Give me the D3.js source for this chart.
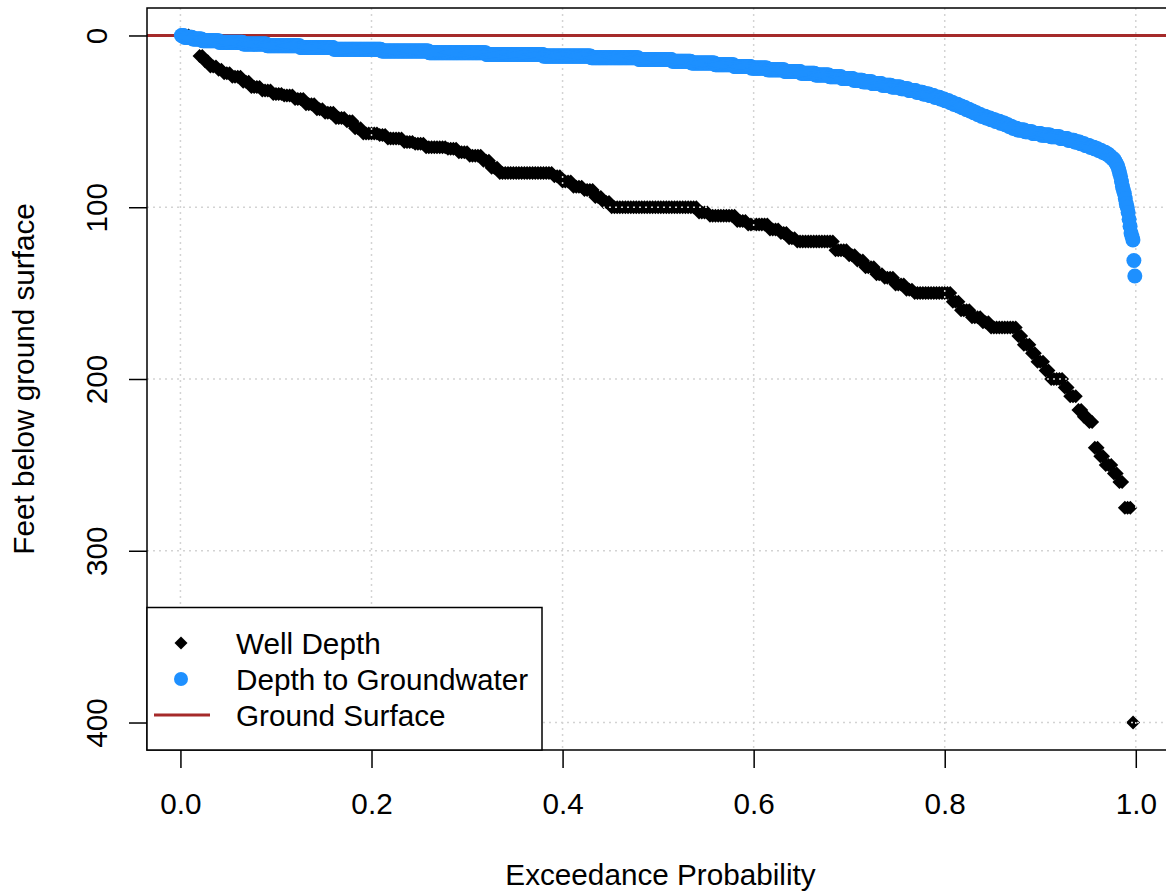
<!DOCTYPE html>
<html>
<head>
<meta charset="utf-8">
<script src="https://cdn.jsdelivr.net/npm/d3@7"></script>
<style>
  body { margin: 0; background: #fff; }
  text { font-family: "Liberation Sans", Arial, Helvetica, sans-serif; fill: #000; }
</style>
</head>
<body>
<div class="chart"></div>
<script>
// well depths (ft), sorted, with how many wells share each depth
var wellDepthFt = [0, 2, 12, 15, 18, 20, 22, 24, 27, 30,
  32, 34, 35, 37, 40, 43, 45, 48, 50, 54,
  57, 58, 60, 62, 63, 65, 66, 68, 70, 73,
  77, 80, 82, 85, 88, 90, 94, 97, 100, 103,
  105, 108, 110, 113, 115, 118, 120, 125, 128, 131,
  135, 139, 141, 145, 148, 150, 155, 160, 164, 167,
  170, 175, 180, 185, 190, 195, 200, 205, 210, 218,
  222, 225, 240, 245, 250, 255, 260, 275, 400]
var wellCount = [3, 3, 2, 2, 3, 2, 3, 4, 3, 4,
  4, 4, 4, 4, 4, 3, 4, 4, 3, 3,
  6, 3, 6, 4, 4, 8, 4, 4, 5, 3,
  3, 20, 3, 4, 4, 4, 3, 3, 32, 4,
  10, 4, 8, 4, 3, 3, 14, 5, 3, 3,
  4, 3, 4, 4, 3, 14, 3, 4, 4, 3,
  10, 2, 3, 2, 3, 2, 5, 2, 3, 2,
  2, 2, 2, 2, 3, 2, 2, 3, 1]

// depth to groundwater (ft), sorted, with counts
var gwDepthFt = [0, 1, 2, 3, 4, 5, 6, 7, 8, 9,
  10, 11, 12, 13, 14, 15, 16, 17, 18, 19,
  20, 21, 22, 23, 24, 25, 26, 27, 28, 29,
  30, 31, 32, 33, 34, 35, 36, 37, 38, 39,
  40, 41, 42, 43, 44, 45, 46, 47, 48, 49,
  50, 51, 52, 53, 54, 55, 56, 57, 58, 59,
  60, 61, 62, 63, 64, 65, 66, 67, 68, 69,
  70, 71, 72, 73, 74, 75, 76, 78, 80, 82,
  85, 88, 90, 92, 95, 98, 100, 103, 107, 111,
  115, 117, 119, 131, 140]
var gwCount = [3, 9, 10, 18, 25, 25, 35, 35, 50, 50,
  60, 60, 50, 50, 35, 20, 25, 20, 18, 17,
  18, 17, 15, 15, 13, 12, 10, 10, 10, 10,
  10, 8, 8, 7, 7, 5, 6, 5, 5, 4,
  5, 4, 4, 4, 4, 4, 4, 5, 5, 5,
  5, 5, 4, 4, 5, 8, 8, 9, 10, 10,
  8, 7, 6, 5, 5, 5, 4, 4, 4, 3,
  2, 2, 2, 1, 1, 1, 1, 1, 1, 1,
  1, 1, 1, 1, 1, 1, 1, 1, 1, 1,
  1, 1, 1, 1, 1]

var xTicks = [0, 0.2, 0.4, 0.6, 0.8, 1.0]
var yTicks = [0, 100, 200, 300, 400]
var legendLabels = ["Well Depth", "Depth to Groundwater", "Ground Surface"]

var width = 1166, height = 893
// plot box (right edge runs past the window, as in the original)
var boxL = 147, boxT = 8, boxR = 1174, boxB = 750
var fontSize = 29.7

var blue = "#1E90FF", brown = "#A52A2A", grey = "#D3D3D3"

// turn sorted values + counts into plotting positions i/(n+1)
function exceedance(depths, counts) {
  var vals = []
  depths.forEach(function(d, i) {
    for (var k = 0; k < counts[i]; k++) vals.push(d)
  })
  var n = vals.length
  return vals.map(function(v, i) { return {p: (i + 1) / (n + 1), depth: v} })
}

var wells = exceedance(wellDepthFt, wellCount)
var gw = exceedance(gwDepthFt, gwCount)

var x = d3.scaleLinear().domain([-0.035, 1.04]).range([boxL, boxR])
var y = d3.scaleLinear().domain([-16, 416]).range([boxT, boxB])

var svg = d3.select(".chart")
  .append("svg")
    .attr("width", width)
    .attr("height", height)
    .style("display", "block")

var diamond = function(h) { return "M0," + (-h) + "L" + h + ",0L0," + h + "L" + (-h) + ",0Z" }

// well depth diamonds (drawn first, grid goes over them)
svg.append("g").selectAll("path")
  .data(wells)
  .enter().append("path")
    .attr("d", diamond(7))
    .attr("transform", function(d) { return "translate(" + x(d.p) + "," + y(d.depth) + ")" })
    .attr("fill", "#000")

// grid
var grid = svg.append("g")
  .attr("stroke", grey)
  .attr("stroke-width", 1.5)
  .attr("stroke-dasharray", "2,4")
grid.selectAll(".gx").data(xTicks).enter().append("line")
  .attr("x1", function(d) { return x(d) }).attr("x2", function(d) { return x(d) })
  .attr("y1", boxT).attr("y2", boxB)
grid.selectAll(".gy").data(yTicks).enter().append("line")
  .attr("x1", boxL).attr("x2", boxR)
  .attr("y1", function(d) { return y(d) }).attr("y2", function(d) { return y(d) })

// ground surface
svg.append("line")
  .attr("x1", boxL).attr("x2", boxR)
  .attr("y1", y(0)).attr("y2", y(0))
  .attr("stroke", brown)
  .attr("stroke-width", 3)

// depth to groundwater
svg.append("g").selectAll("circle")
  .data(gw)
  .enter().append("circle")
    .attr("cx", function(d) { return x(d.p) })
    .attr("cy", function(d) { return y(d.depth) })
    .attr("r", 7.5)
    .attr("fill", blue)

// box
svg.append("rect")
  .attr("x", boxL).attr("y", boxT)
  .attr("width", boxR - boxL).attr("height", boxB - boxT)
  .attr("fill", "none")
  .attr("stroke", "#000")
  .attr("stroke-width", 1.5)

// axes
var xAxis = svg.append("g")
  .attr("transform", "translate(0," + boxB + ")")
  .call(d3.axisBottom(x).tickValues(xTicks).tickSize(18).tickFormat(d3.format(".1f")))
xAxis.select(".domain").remove()
xAxis.selectAll("line").attr("stroke-width", 1.5)
xAxis.selectAll("text")
  .attr("y", 64).attr("dy", null)
  .style("font-size", fontSize + "px")
  .style("font-family", "'Liberation Sans', Arial, sans-serif")

var yAxis = svg.append("g")
  .attr("transform", "translate(" + boxL + ",0)")
  .call(d3.axisLeft(y).tickValues(yTicks).tickSize(18))
yAxis.select(".domain").remove()
yAxis.selectAll("line").attr("stroke-width", 1.5)
yAxis.selectAll("text")
  .attr("transform", "rotate(-90)")
  .attr("x", 0).attr("y", -40).attr("dy", null)
  .attr("text-anchor", "middle")
  .style("font-size", fontSize + "px")
  .style("font-family", "'Liberation Sans', Arial, sans-serif")

// axis titles
svg.append("text")
  .attr("x", (boxL + boxR) / 2).attr("y", 885)
  .attr("text-anchor", "middle")
  .style("font-size", fontSize + "px")
  .text("Exceedance Probability")

svg.append("text")
  .attr("transform", "translate(34," + (boxT + boxB) / 2 + ") rotate(-90)")
  .attr("text-anchor", "middle")
  .style("font-size", fontSize + "px")
  .text("Feet below ground surface")

// legend
var lg = svg.append("g")
lg.append("rect")
  .attr("x", boxL).attr("y", 607.5)
  .attr("width", 542 - boxL).attr("height", boxB - 607.5)
  .attr("fill", "#fff")
  .attr("stroke", "#000")
  .attr("stroke-width", 1.5)

var rowY = [643, 679, 715]
lg.append("path")
  .attr("d", diamond(6.5))
  .attr("transform", "translate(181," + rowY[0] + ")")
  .attr("fill", "#000")
lg.append("circle")
  .attr("cx", 181).attr("cy", rowY[1]).attr("r", 7)
  .attr("fill", blue)
lg.append("line")
  .attr("x1", 154).attr("x2", 210)
  .attr("y1", rowY[2]).attr("y2", rowY[2])
  .attr("stroke", brown).attr("stroke-width", 3)

lg.selectAll(".lt").data(legendLabels).enter().append("text")
  .attr("x", 236)
  .attr("y", function(d, i) { return rowY[i] + 10.5 })
  .style("font-size", fontSize + "px")
  .text(function(d) { return d })
</script>
</body>
</html>
